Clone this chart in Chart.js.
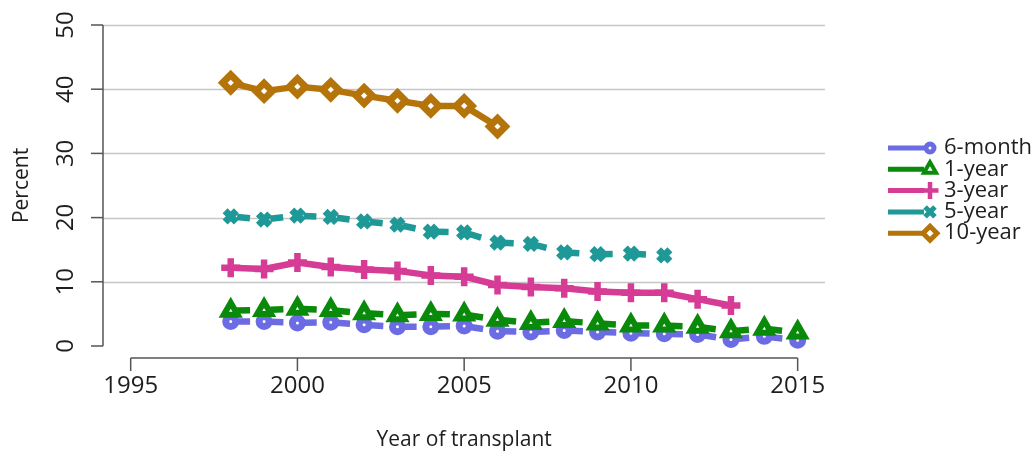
<!DOCTYPE html>
<html>
<head>
<meta charset="utf-8">
<script src="https://cdn.jsdelivr.net/npm/chart.js@4.4.0/dist/chart.umd.min.js"></script>
<style>
    html, body { margin: 0; padding: 0; background: #fff; }
    canvas { display: block; }
</style>
</head>
<body>
<canvas id="grafico" width="1035" height="455"></canvas>
<script>
const years = [1998, 1999, 2000, 2001, 2002, 2003, 2004, 2005, 2006, 2007, 2008, 2009, 2010, 2011, 2012, 2013, 2014, 2015];
const sixMonth = [3.8, 3.8, 3.6, 3.7, 3.3, 3.0, 3.0, 3.1, 2.3, 2.2, 2.4, 2.2, 2.0, 1.9, 1.8, 1.0, 1.5, 0.9];
const oneYear = [5.5, 5.6, 5.8, 5.6, 5.1, 4.8, 5.0, 4.9, 4.1, 3.6, 3.9, 3.5, 3.2, 3.2, 3.0, 2.3, 2.7, 2.1];
const threeYear = [12.2, 12.0, 13.0, 12.3, 11.9, 11.7, 11.0, 10.8, 9.5, 9.2, 9.0, 8.5, 8.3, 8.3, 7.3, 6.3];
const fiveYear = [20.2, 19.7, 20.3, 20.1, 19.4, 18.9, 17.8, 17.7, 16.1, 15.9, 14.6, 14.3, 14.4, 14.1];
const tenYear = [41.0, 39.7, 40.4, 39.9, 39.0, 38.2, 37.4, 37.4, 34.2];

const xTicks = [1995, 2000, 2005, 2010, 2015];
const yTicks = [0, 10, 20, 30, 40, 50];
const gridTicks = [10, 20, 30, 40, 50];

const FONT = '"Open Sans", "Noto Sans", sans-serif';
const TEXT_COLOR = '#1e1e1e';
const AXIS_COLOR = '#555';

// one entry per line, in legend order
const series = [
    { label: '6-month', values: sixMonth, color: '#6b6be3', style: 'circle', radius: 5, border: 7, dashed: true },
    { label: '1-year', values: oneYear, color: '#0a8a0a', style: 'triangle', radius: 8, border: 6, dashed: true },
    { label: '3-year', values: threeYear, color: '#d63c96', style: 'cross', radius: 9.5, border: 6.5, dashed: false },
    { label: '5-year', values: fiveYear, color: '#1f9898', style: 'crossRot', radius: 8, border: 7, dashed: true },
    { label: '10-year', values: tenYear, color: '#b5740a', style: 'rectRot', radius: 8, border: 7, dashed: false }
];

function montarDatasets() {
    return series.map((s, i) => ({
        label: s.label,
        data: s.values.map((v, j) => ({ x: years[j], y: v })),
        borderColor: s.color,
        backgroundColor: '#fff',
        borderWidth: 6.5,
        borderDash: s.dashed ? [13, 20.35] : [],
        borderDashOffset: s.dashed ? 27 : 0,
        borderCapStyle: 'butt',
        borderJoinStyle: 'round',
        tension: 0,
        pointStyle: s.style,
        pointRadius: s.radius,
        pointBorderWidth: s.border,
        pointBorderColor: s.color,
        pointBackgroundColor: '#fff',
        pointHoverRadius: s.radius,
        order: series.length - i,
        clip: false
    }));
}

function desenharMarcador(ctx, s, x, y) {
    ctx.save();
    ctx.strokeStyle = s.color;
    ctx.fillStyle = '#fff';
    ctx.lineWidth = s.border - 2;
    if (Chart.helpers && Chart.helpers.drawPoint) {
        Chart.helpers.drawPoint(ctx, { pointStyle: s.style, radius: s.radius - 1, rotation: 0, borderWidth: s.border - 2 }, x, y);
    } else {
        ctx.beginPath();
        ctx.arc(x, y, s.radius - 1, 0, Math.PI * 2);
        ctx.fill();
        ctx.stroke();
    }
    ctx.restore();
}

const eixos = {
    id: 'eixos',
    beforeDatasetsDraw(chart) {
        const ctx = chart.ctx;
        const area = chart.chartArea;
        const yScale = chart.scales.y;
        ctx.save();
        ctx.strokeStyle = '#c6c6c6';
        ctx.lineWidth = 1.5;
        gridTicks.forEach(t => {
            const py = Math.round(yScale.getPixelForValue(t)) + 0.5;
            ctx.beginPath();
            ctx.moveTo(area.left, py);
            ctx.lineTo(area.right, py);
            ctx.stroke();
        });
        ctx.restore();
    },
    afterDraw(chart) {
        const ctx = chart.ctx;
        const area = chart.chartArea;
        const xScale = chart.scales.x;
        const yScale = chart.scales.y;
        ctx.save();
        ctx.strokeStyle = AXIS_COLOR;
        ctx.lineWidth = 1.5;
        ctx.fillStyle = TEXT_COLOR;

        // y axis (detached, R style)
        const axX = area.left;
        const yTop = yScale.getPixelForValue(yTicks[yTicks.length - 1]);
        const yBot = yScale.getPixelForValue(yTicks[0]);
        ctx.beginPath();
        ctx.moveTo(axX, yBot);
        ctx.lineTo(axX, yTop);
        ctx.stroke();
        ctx.font = '24px ' + FONT;
        ctx.textAlign = 'center';
        ctx.textBaseline = 'middle';
        yTicks.forEach(t => {
            const py = yScale.getPixelForValue(t);
            ctx.beginPath();
            ctx.moveTo(axX - 12, py);
            ctx.lineTo(axX, py);
            ctx.stroke();
            ctx.save();
            ctx.translate(axX - 37, py);
            ctx.rotate(-Math.PI / 2);
            ctx.fillText(String(t), 0, 0);
            ctx.restore();
        });

        // x axis
        const axY = area.bottom + 12;
        const xLeft = xScale.getPixelForValue(xTicks[0]);
        const xRight = xScale.getPixelForValue(xTicks[xTicks.length - 1]);
        ctx.beginPath();
        ctx.moveTo(xLeft, axY);
        ctx.lineTo(xRight, axY);
        ctx.stroke();
        xTicks.forEach(t => {
            const px = xScale.getPixelForValue(t);
            ctx.beginPath();
            ctx.moveTo(px, axY);
            ctx.lineTo(px, axY + 13);
            ctx.stroke();
            ctx.fillText(String(t), px, axY + 28);
        });

        // titles
        ctx.font = '21px ' + FONT;
        ctx.fillText('Year of transplant', (xLeft + xRight) / 2, 440);
        ctx.save();
        ctx.translate(22, (yTop + yBot) / 2);
        ctx.rotate(-Math.PI / 2);
        ctx.fillText('Percent', 0, 0);
        ctx.restore();

        // legend
        ctx.font = '22px ' + FONT;
        ctx.textAlign = 'left';
        series.forEach((s, i) => {
            const ly = 148 + i * 21.3;
            ctx.save();
            ctx.strokeStyle = s.color;
            ctx.lineWidth = 5;
            ctx.beginPath();
            ctx.moveTo(888, ly);
            ctx.lineTo(924, ly);
            ctx.stroke();
            ctx.restore();
            desenharMarcador(ctx, s, 930, ly);
            ctx.fillText(s.label, 944, ly);
        });
        ctx.restore();
    }
};

document.addEventListener('DOMContentLoaded', () => {
    const ctx = document.getElementById('grafico').getContext('2d');
    new Chart(ctx, {
        type: 'line',
        data: { datasets: montarDatasets() },
        options: {
            responsive: false,
            animation: false,
            layout: { padding: { left: 103, right: 210, top: 25, bottom: 109 } },
            scales: {
                x: { type: 'linear', min: 1994.17, max: 2015.82, display: false },
                y: { type: 'linear', min: 0, max: 50, display: false }
            },
            plugins: {
                legend: { display: false },
                tooltip: { enabled: false }
            }
        },
        plugins: [eixos]
    });
});
</script>
</body>
</html>
